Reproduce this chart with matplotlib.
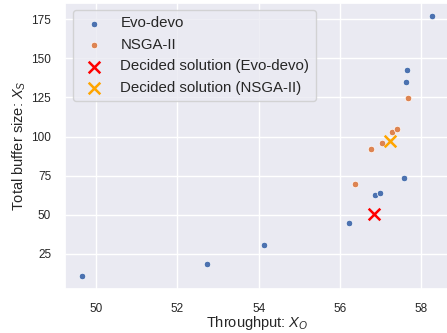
import matplotlib
matplotlib.use("Agg")
import matplotlib.pyplot as plt
import seaborn as sns

evo_x = [49.66, 52.72, 54.14, 56.22, 56.87, 56.99, 57.59, 57.64, 57.65, 58.27]
evo_y = [10.7, 18.7, 30.8, 44.7, 62.9, 64.0, 73.7, 135.0, 142.8, 177.0]
nsga_x = [56.38, 56.76, 57.03, 57.28, 57.40, 57.69]
nsga_y = [69.9, 91.9, 95.8, 102.7, 105.0, 124.8]
dec_evo = (56.84, 50.8)
dec_nsga = (57.23, 97.0)

sns.set_theme(style="darkgrid")
plt.rcParams['font.family'] = ['Liberation Sans', 'DejaVu Sans']
plt.rcParams['mathtext.fontset'] = 'custom'
plt.rcParams['mathtext.it'] = 'Liberation Sans:italic'
plt.rcParams['mathtext.rm'] = 'Liberation Sans'
pal = sns.color_palette("deep")

fig = plt.figure(figsize=(4.47, 3.33), dpi=100)
ax = fig.add_axes([65/447, (333-289.3)/333, 384.5/447, (289.3-3)/333])

ax.scatter(evo_x, evo_y, s=22, color=pal[0], edgecolor="white", linewidth=0.5, label="Evo-devo", zorder=3)
ax.scatter(nsga_x, nsga_y, s=22, color=pal[1], edgecolor="white", linewidth=0.5, label="NSGA-II", zorder=3)
ax.scatter([dec_evo[0]], [dec_evo[1]], marker="x", s=70, color="red", linewidths=1.8,
           label="Decided solution (Evo-devo)", zorder=4)
ax.scatter([dec_nsga[0]], [dec_nsga[1]], marker="x", s=70, color="orange", linewidths=1.8,
           label="Decided solution (NSGA-II)", zorder=4)

ax.set_xticks([50, 52, 54, 56, 58])
ax.set_yticks([25, 50, 75, 100, 125, 150, 175])
ax.tick_params(labelsize=8.5, pad=4)
ax.set_xlabel("Throughput: $X_O$", fontsize=10.5, labelpad=-1)
ax.set_ylabel("Total buffer size: $X_S$", fontsize=10.5, labelpad=2)
ax.legend(loc="upper left", fontsize=10.8, borderaxespad=0.5)

fig.savefig("out.png", dpi=100)
